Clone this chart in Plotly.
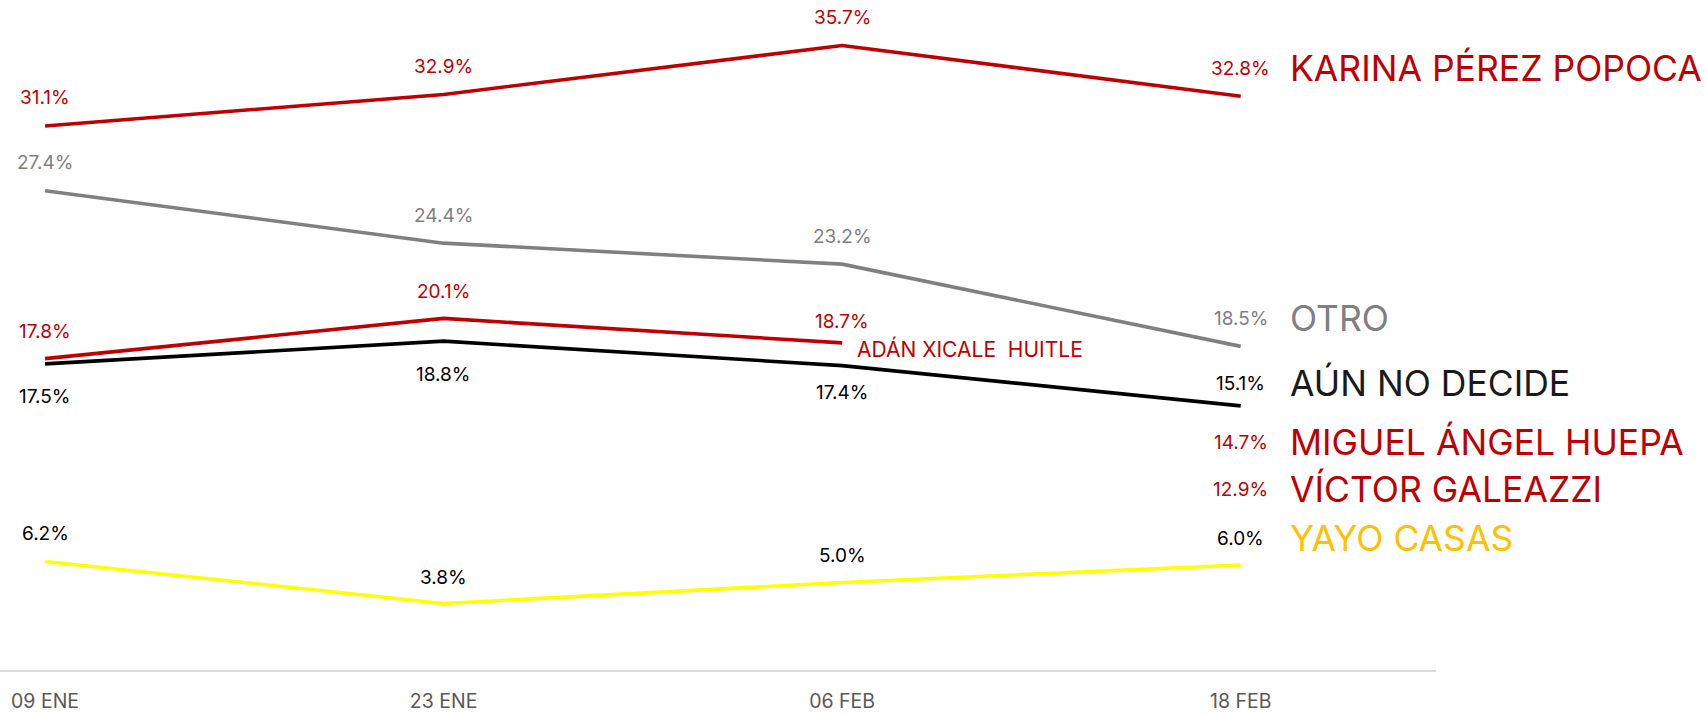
import plotly.graph_objects as go

# ---- data ----
dates = ["09 ENE", "23 ENE", "06 FEB", "18 FEB"]
karina = [31.1, 32.9, 35.7, 32.8]
otro = [27.4, 24.4, 23.2, 18.5]
adan = [17.8, 20.1, 18.7, None]
aun = [17.5, 18.8, 17.4, 15.1]
yayo = [6.2, 3.8, 5.0, 6.0]
miguel = [None, None, None, 14.7]
victor = [None, None, None, 12.9]

names = {
    "karina": "KARINA PÉREZ POPOCA",
    "otro": "OTRO",
    "adan": "ADÁN XICALE  HUITLE",
    "aun": "AÚN NO DECIDE",
    "miguel": "MIGUEL ÁNGEL HUEPA",
    "victor": "VÍCTOR GALEAZZI",
    "yayo": "YAYO CASAS",
}

FONT = "Inter"
RED = "#C00000"
GRAY = "#808080"
BLACK = "#000000"

series = [
    # key, values, line color, label color, name color, label offsets (px)
    ("karina", karina, RED, RED, RED, [28, 28, 28, 28]),
    ("otro", otro, GRAY, GRAY, GRAY, [28, 28, 28, 28]),
    ("adan", adan, RED, RED, RED, [27, 27, 21, 0]),
    ("aun", aun, BLACK, BLACK, "#1a1a1a", [-33, -33, -27, 22]),
    ("yayo", yayo, "#FFFF00", BLACK, "#FFC000", [28, 26, 27, 27]),
    ("miguel", miguel, None, RED, RED, [0, 0, 0, -30]),
    ("victor", victor, None, RED, RED, [0, 0, 0, -45]),
]

xi = list(range(len(dates)))
fig = go.Figure()
annotations = []

for key, vals, lcol, tcol, ncol, offs in series:
    if lcol is not None:
        fig.add_trace(go.Scatter(
            x=[i for i, v in zip(xi, vals) if v is not None],
            y=[v for v in vals if v is not None],
            mode="lines",
            line=dict(color=lcol, width=3.6),
            hoverinfo="skip",
            showlegend=False,
        ))
    last_i = None
    for i, v in zip(xi, vals):
        if v is None:
            continue
        last_i = i
        annotations.append(dict(
            x=i, y=v, xref="x", yref="y", text=f"{v:.1f}%",
            showarrow=False, yshift=offs[i], xanchor="center", yanchor="middle",
            font=dict(family=FONT, size=19, color=tcol),
        ))
    v = vals[last_i]
    if key == "adan":
        annotations.append(dict(
            x=last_i, y=v, xref="x", yref="y", text=names[key],
            showarrow=False, xanchor="left", yanchor="middle",
            xshift=13, yshift=-6,
            font=dict(family=FONT, size=21, color=ncol),
        ))
    else:
        annotations.append(dict(
            x=last_i, y=v, xref="x", yref="y", text=names[key],
            showarrow=False, xanchor="left", yanchor="middle",
            xshift=47, yshift=offs[last_i],
            font=dict(family=FONT, size=35.5, color=ncol),
        ))

fig.update_layout(
    width=1706, height=716,
    margin=dict(l=0, r=270, t=0, b=46),
    plot_bgcolor="white", paper_bgcolor="white",
    annotations=annotations,
    xaxis=dict(
        range=[-0.113, 3.49], tickvals=xi, ticktext=dates,
        showgrid=False, zeroline=False, showline=True,
        linecolor="#d9d9d9", linewidth=1.5, ticks="",
        tickfont=dict(family=FONT, size=19.5, color="#595959"),
        ticklabelstandoff=13,
    ),
    yaxis=dict(
        range=[0, 38.3], visible=False, showgrid=False, zeroline=False,
    ),
)

fig.write_html(
    "out.html",
    config={"displayModeBar": False},
    post_script="document.body.style.margin='0';document.body.style.overflow='hidden';",
)
